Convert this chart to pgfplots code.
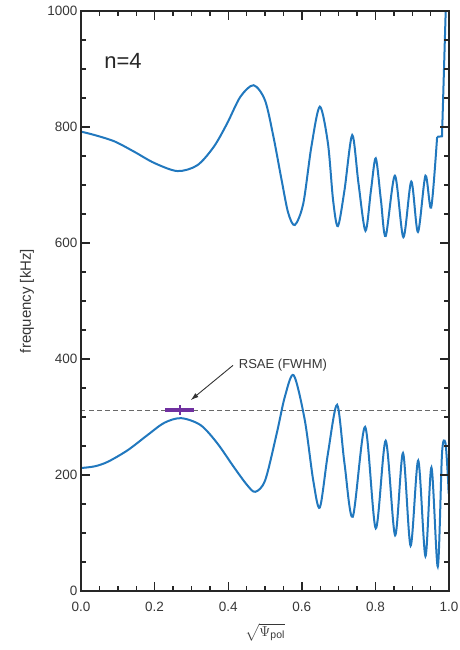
\documentclass[border=0pt]{standalone}
\usepackage{amsmath}
\usepackage{fontspec}
\setmainfont{Liberation Sans}
\usepackage{pgfplots}
\pgfplotsset{compat=1.18}
\usetikzlibrary{arrows.meta}

\definecolor{curveblue}{RGB}{33,120,190}
\definecolor{fwhm}{RGB}{112,48,160}
\definecolor{textgray}{RGB}{55,55,55}
\definecolor{dashgray}{RGB}{105,105,105}

\begin{document}
\begin{tikzpicture}
% page area: frame of 368pt x 580pt with room for the labels around it
\useasboundingbox (-81pt,-59pt) rectangle (378pt,591pt);
\begin{axis}[
  at={(0,0)}, anchor=south west,
  scale only axis, width=368pt, height=580pt,
  xmin=0, xmax=1, ymin=0, ymax=1000,
  axis on top,
  xtick={0,0.2,0.4,0.6,0.8,1.0},
  ytick={0,200,400,600,800,1000},
  minor xtick={0.05,0.1,0.15,0.25,0.3,0.35,0.45,0.5,0.55,0.65,0.7,0.75,0.85,0.9,0.95},
  minor ytick={50,100,150,250,300,350,450,500,550,650,700,750,850,900,950},
  xtick pos=both, ytick pos=both,
  tick align=inside,
  major tick length=0.33cm, minor tick length=0.18cm,
  axis line style={line width=1.3pt, black!85},
  every tick/.style={line width=1.4pt, draw=black!85},
  /pgf/number format/assume math mode=true,
  /pgf/number format/1000 sep={},
  ticklabel style={font=\fontsize{13.5}{16}\selectfont, text=textgray},
  xticklabel style={yshift=-8pt, /pgf/number format/.cd, fixed, fixed zerofill, precision=1},
  ylabel={frequency [kHz]},
  ylabel style={at={(axis description cs:-0.1467,0.5)}, anchor=center,
    font=\fontsize{15}{18}\selectfont, text=textgray},
  xlabel={$\sqrt{\Psi_{\text{pol}}}$},
  xlabel style={at={(axis description cs:0.5,-0.072)}, anchor=center,
    font=\fontsize{15}{18}\selectfont, text=textgray},
]

% reference level of the RSAE
\addplot[dashgray, line width=1pt, dash pattern=on 4.5pt off 3.5pt] coordinates {(0,312) (1,312)};

% upper branch
\addplot[curveblue, line width=2pt, smooth] table {
x y
0 792
0.0377 786
0.0916 775
0.1456 757
0.199 738
0.262 724
0.316 734
0.361 766
0.397 806
0.433 852
0.469 872
0.50 846
0.523 783
0.545 709
0.563 652
0.581 631
0.604 668
0.626 766
0.649 835
0.671 772
0.685 674
0.698 629
0.716 691
0.737 786
0.754 703
0.773 621
0.788 691
0.801 746
0.815 674
0.828 612
0.853 716
0.876 610
0.8975 706
0.9156 619
0.936 716
0.9515 661
0.9677 783
};
\addplot[curveblue, line width=2pt] table {
x y
0.9677 783
0.981 784
0.9915 1010
};

% lower branch
\addplot[curveblue, line width=2pt, smooth] table {
x y
0 212
0.0377 215
0.0736 223
0.1275 243
0.181 269
0.2264 290
0.272 298
0.325 286
0.370 255
0.415 214
0.451 183
0.4735 171
0.5005 191
0.532 272
0.554 335
0.578 372
0.608 295
0.631 191
0.649 144
0.671 237
0.696 321
0.716 220
0.7385 128
0.772 283
0.801 108
0.828 259
0.8536 96
0.875 238
0.8957 78
0.9164 225
0.936 60
0.9523 213
0.9695 42
0.981 237
0.990 256
0.9965 203
0.999 168
};

% RSAE full width at half maximum
\addplot[fwhm, line width=3.2pt] coordinates {(0.229,312) (0.307,312)};
\addplot[fwhm, only marks, mark=|, mark size=5pt, mark options={line width=2pt}]
  coordinates {(0.268,312)};

\draw[-{Latex[length=8pt,width=5pt]}, line width=0.9pt, black!80]
  (axis cs:0.413,389) -- (axis cs:0.298,329);
\node[anchor=west, inner sep=0pt, text=textgray, font=\fontsize{13}{15}\selectfont]
  at (axis cs:0.4286,390) {RSAE (FWHM)};

\node[anchor=west, inner sep=0pt, text=black!85, font=\fontsize{22}{26}\selectfont]
  at (axis cs:0.063,914) {n=4};
\end{axis}
\end{tikzpicture}
\end{document}
